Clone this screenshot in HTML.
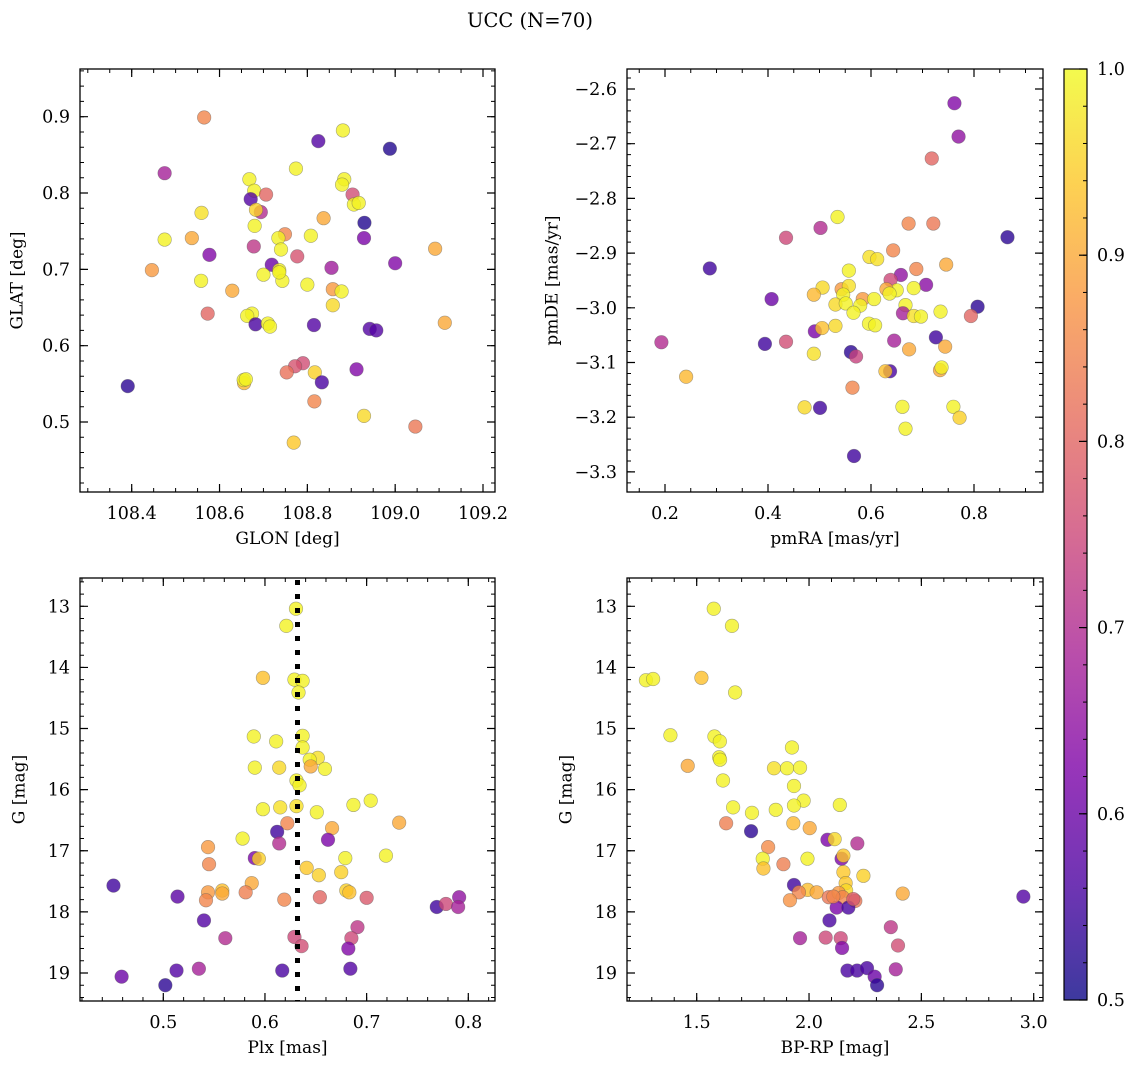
<!DOCTYPE html>
<html><head><meta charset="utf-8"><style>
html,body{margin:0;padding:0;background:#fff}
svg{display:block;font-family:"DejaVu Serif","Liberation Serif",serif}
</style></head><body>
<svg id="fig" width="1136" height="1068" viewBox="0 0 1136 1068">
<defs>
<linearGradient id="cbgrad" x1="0" y1="1" x2="0" y2="0">
<stop offset="0" stop-color="#0d0887"/><stop offset="0.125" stop-color="#4c02a1"/><stop offset="0.25" stop-color="#7e03a8"/><stop offset="0.375" stop-color="#a92395"/><stop offset="0.5" stop-color="#cc4778"/><stop offset="0.625" stop-color="#e66c5c"/><stop offset="0.75" stop-color="#f89540"/><stop offset="0.875" stop-color="#fdc527"/><stop offset="1" stop-color="#f0f921"/>
</linearGradient>
</defs>
<text x="530" y="27" text-anchor="middle" font-size="19.5">UCC (N=70)</text>
</svg>
<script>
// Panel 1 data
const glon=[108.565,108.881,108.825,108.988,108.475,108.774,108.668,108.679,108.706,108.671,108.884,108.879,108.903,108.906,108.917,108.559,108.694,108.683,108.837,108.93,108.68,108.475,108.537,108.749,108.734,108.808,108.929,108.678,108.74,108.577,108.777,109.091,109.0,108.719,108.855,108.446,108.736,108.7,108.743,108.558,108.8,108.629,108.858,108.878,108.858,108.573,108.674,108.663,109.113,108.682,108.71,108.715,108.815,108.942,108.957,108.912,108.79,108.772,108.753,108.817,108.833,108.656,108.655,108.66,108.391,108.816,108.929,109.046,108.769,108.736];
const glat=[0.899,0.882,0.868,0.858,0.826,0.832,0.818,0.803,0.798,0.792,0.818,0.811,0.798,0.785,0.787,0.774,0.775,0.778,0.767,0.761,0.757,0.739,0.741,0.746,0.741,0.744,0.741,0.730,0.726,0.719,0.717,0.727,0.708,0.706,0.702,0.699,0.699,0.693,0.685,0.685,0.680,0.672,0.674,0.671,0.653,0.642,0.642,0.639,0.630,0.628,0.629,0.625,0.627,0.622,0.620,0.569,0.577,0.573,0.565,0.565,0.552,0.551,0.555,0.556,0.547,0.527,0.508,0.494,0.473,0.696];
const prob1=[0.85,0.99,0.57,0.52,0.68,0.99,0.99,0.99,0.8,0.57,0.99,0.99,0.76,0.99,0.99,0.97,0.7,0.95,0.9,0.52,0.99,0.99,0.9,0.85,0.99,0.99,0.62,0.72,0.99,0.63,0.77,0.9,0.63,0.6,0.67,0.88,0.99,0.99,0.99,0.99,0.99,0.9,0.88,0.99,0.96,0.8,0.99,0.99,0.9,0.56,0.99,0.99,0.57,0.57,0.57,0.63,0.76,0.77,0.82,0.95,0.56,0.92,0.99,0.99,0.53,0.85,0.96,0.83,0.94,0.99];
// Panel 2 data
const pmra=[0.762,0.770,0.718,0.535,0.673,0.721,0.502,0.435,0.865,0.287,0.643,0.597,0.612,0.746,0.557,0.658,0.688,0.638,0.707,0.683,0.650,0.506,0.543,0.557,0.489,0.546,0.630,0.636,0.407,0.584,0.606,0.531,0.551,0.579,0.566,0.667,0.807,0.735,0.662,0.683,0.697,0.794,0.491,0.505,0.531,0.596,0.608,0.726,0.645,0.744,0.674,0.193,0.394,0.435,0.489,0.561,0.571,0.637,0.628,0.734,0.737,0.241,0.564,0.471,0.501,0.661,0.760,0.772,0.667,0.567];
const pmde=[-2.626,-2.687,-2.727,-2.834,-2.846,-2.846,-2.854,-2.872,-2.871,-2.928,-2.895,-2.907,-2.911,-2.921,-2.932,-2.940,-2.929,-2.949,-2.958,-2.964,-2.968,-2.963,-2.966,-2.960,-2.976,-2.976,-2.966,-2.974,-2.984,-2.984,-2.984,-2.994,-2.992,-2.996,-3.009,-2.995,-2.998,-3.007,-3.010,-3.015,-3.016,-3.015,-3.043,-3.037,-3.033,-3.029,-3.032,-3.054,-3.060,-3.071,-3.076,-3.063,-3.066,-3.062,-3.084,-3.081,-3.089,-3.116,-3.116,-3.114,-3.109,-3.126,-3.146,-3.182,-3.183,-3.181,-3.181,-3.201,-3.221,-3.271];
const prob2=[0.63,0.65,0.8,0.99,0.85,0.83,0.7,0.75,0.53,0.55,0.85,0.97,0.97,0.9,0.99,0.65,0.85,0.75,0.64,0.99,0.99,0.96,0.88,0.97,0.92,0.99,0.9,0.99,0.6,0.88,0.99,0.96,0.99,0.99,0.99,0.99,0.53,0.99,0.68,0.97,0.99,0.8,0.62,0.93,0.96,0.99,0.99,0.55,0.68,0.9,0.9,0.7,0.55,0.76,0.97,0.53,0.74,0.56,0.93,0.9,0.99,0.92,0.85,0.96,0.55,0.99,0.99,0.95,0.99,0.55];
// Panel 3 data
const plx=[0.6305,0.621,0.598,0.629,0.637,0.633,0.589,0.611,0.637,0.637,0.652,0.644,0.645,0.590,0.614,0.659,0.631,0.634,0.704,0.687,0.598,0.615,0.631,0.651,0.732,0.622,0.666,0.612,0.662,0.614,0.578,0.544,0.719,0.590,0.594,0.679,0.545,0.641,0.653,0.675,0.451,0.587,0.581,0.558,0.558,0.544,0.542,0.514,0.619,0.654,0.680,0.683,0.700,0.769,0.778,0.791,0.790,0.540,0.561,0.629,0.636,0.691,0.685,0.682,0.513,0.459,0.535,0.502,0.617,0.684];
const gmag3=[13.04,13.32,14.17,14.20,14.22,14.41,15.13,15.21,15.12,15.31,15.48,15.51,15.62,15.64,15.64,15.66,15.85,15.93,16.18,16.25,16.32,16.29,16.27,16.37,16.54,16.55,16.63,16.69,16.82,16.88,16.80,16.94,17.08,17.12,17.13,17.12,17.22,17.28,17.40,17.35,17.57,17.53,17.68,17.65,17.70,17.68,17.81,17.75,17.80,17.76,17.65,17.68,17.77,17.92,17.87,17.76,17.92,18.14,18.43,18.41,18.56,18.25,18.43,18.60,18.96,19.06,18.93,19.20,18.96,18.93];
const prob3=[0.99,0.99,0.93,0.99,0.99,0.99,0.99,0.99,0.99,0.99,0.97,0.99,0.9,0.99,0.96,0.99,0.99,0.99,0.99,0.99,0.99,0.97,0.97,0.99,0.9,0.85,0.9,0.55,0.62,0.7,0.99,0.88,0.99,0.62,0.95,0.99,0.85,0.94,0.95,0.95,0.55,0.9,0.84,0.93,0.9,0.88,0.85,0.58,0.85,0.8,0.95,0.93,0.78,0.55,0.75,0.65,0.68,0.57,0.7,0.75,0.76,0.72,0.75,0.63,0.57,0.6,0.68,0.53,0.56,0.57];
const plxRef=[0.632];
// Panel 4 data
const bprp=[1.576,1.657,1.274,1.306,1.521,1.671,1.383,1.579,1.603,1.600,1.604,1.460,1.617,1.924,1.844,1.902,1.960,1.933,1.976,1.933,1.662,1.746,1.852,2.137,1.631,1.930,2.003,1.742,2.082,2.114,2.215,1.818,1.794,1.993,2.145,2.153,1.886,1.797,2.153,2.242,1.933,2.163,2.165,1.994,2.034,1.955,1.915,2.088,2.132,2.150,2.206,2.123,2.175,2.417,2.954,2.091,1.960,2.074,2.141,2.147,2.364,2.396,2.386,2.171,2.214,2.258,2.292,2.303,2.197,2.108];
const gmag4=[13.04,13.32,14.21,14.19,14.17,14.41,15.11,15.13,15.21,15.47,15.51,15.61,15.85,15.31,15.65,15.65,15.64,15.94,16.18,16.26,16.29,16.38,16.33,16.25,16.55,16.55,16.63,16.68,16.82,16.81,16.88,16.94,17.13,17.13,17.13,17.08,17.22,17.29,17.35,17.41,17.56,17.53,17.65,17.64,17.68,17.68,17.81,17.76,17.69,17.76,17.82,17.93,17.93,17.70,17.75,18.14,18.43,18.42,18.43,18.59,18.25,18.55,18.94,18.96,18.96,18.92,19.06,19.20,17.79,17.75];
const prob4=[0.99,0.99,0.99,0.99,0.93,0.99,0.99,0.99,0.99,0.99,0.99,0.9,0.99,0.99,0.97,0.99,0.99,0.99,0.99,0.99,0.99,0.99,0.99,0.99,0.84,0.92,0.9,0.53,0.62,0.96,0.7,0.86,0.99,0.99,0.62,0.94,0.84,0.93,0.94,0.95,0.55,0.94,0.96,0.93,0.9,0.85,0.87,0.83,0.88,0.85,0.83,0.62,0.56,0.9,0.57,0.56,0.68,0.75,0.75,0.63,0.72,0.76,0.68,0.56,0.56,0.56,0.6,0.53,0.78,0.85];
// Tick labels
const ticks1x=[108.4,108.6,108.8,109.0,109.2], ticks1y=[0.5,0.6,0.7,0.8,0.9];
const ticks2x=[0.2,0.4,0.6,0.8], ticks2y=[-3.3,-3.2,-3.1,-3.0,-2.9,-2.8,-2.7,-2.6];
const ticks3x=[0.5,0.6,0.7,0.8], ticksGy=[13,14,15,16,17,18,19];
const ticks4x=[1.5,2.0,2.5,3.0];
const cbTicks=[0.5,0.6,0.7,0.8,0.9,1.0];

const NS='http://www.w3.org/2000/svg';
const svg=document.getElementById('fig');
function mk(tag,attrs,parent){const e=document.createElementNS(NS,tag);for(const k in attrs)e.setAttribute(k,attrs[k]);(parent||svg).appendChild(e);return e;}
const stops=[[0,[13,8,135]],[0.125,[76,2,161]],[0.25,[126,3,168]],[0.375,[169,35,149]],[0.5,[204,71,120]],[0.625,[230,108,92]],[0.75,[248,149,64]],[0.875,[253,197,39]],[1,[240,249,33]]];
function plasma(v){let t=Math.max(0,Math.min(1,(v-0.5)/0.5));for(let i=1;i<stops.length;i++){if(t<=stops[i][0]){const a=stops[i-1],b=stops[i];const f=(t-a[0])/(b[0]-a[0]);const c=a[1].map((x,j)=>Math.round(x+(b[1][j]-x)*f));return 'rgb('+c.join(',')+')';}}return 'rgb(240,249,33)';}
function lin(d0,p0,d1,p1){return v=>p0+(v-d0)*(p1-p0)/(d1-d0);}
const TF=17.5, AF=17;
const panels=[
 {name:'glon-glat',box:[80,69,495,492],sx:lin(108.4,131.7,109.2,483),sy:lin(0.9,116.7,0.5,422),xs:glon,ys:glat,ps:prob1,tx:ticks1x,ty:ticks1y,fx:1,fy:1,minx:0.05,miny:0.02,xl:'GLON [deg]',yl:'GLAT [deg]',ylx:18},
 {name:'pmra-pmde',box:[627,69,1043,492],sx:lin(0.2,665,0.8,974),sy:lin(-2.6,89,-3.3,471.9),xs:pmra,ys:pmde,ps:prob2,tx:ticks2x,ty:ticks2y,fx:1,fy:1,minx:0.05,miny:0.02,xl:'pmRA [mas/yr]',yl:'pmDE [mas/yr]',ylx:553},
 {name:'plx-g',box:[80,578,495,1001],sx:lin(0.5,163.3,0.8,468.3),sy:lin(13,606.3,19,973),xs:plx,ys:gmag3,ps:prob3,tx:ticks3x,ty:ticksGy,fx:1,fy:0,minx:0.02,miny:0.2,xl:'Plx [mas]',yl:'G [mag]',ylx:20},
 {name:'bprp-g',box:[627,578,1043,1001],sx:lin(1.5,696.7,3.0,1033.7),sy:lin(13,606.3,19,973),xs:bprp,ys:gmag4,ps:prob4,tx:ticks4x,ty:ticksGy,fx:1,fy:0,minx:0.1,miny:0.2,xl:'BP-RP [mag]',yl:'G [mag]',ylx:567}
];
panels.forEach(P=>{
 const g=mk('g',{});
 
 
 const [x0,y0,x1,y1]=P.box;
 const invL=(f,p)=>{const a=f(0),b=f(1);return (p-a)/(b-a);};
 const xa=invL(P.sx,x0),xb=invL(P.sx,x1);const xmin=Math.min(xa,xb),xmax=Math.max(xa,xb);
 for(let k=Math.ceil(xmin/P.minx);k*P.minx<=xmax;k++){const v=k*P.minx;const px=P.sx(v);if(px<=x0+0.5||px>=x1-0.5)continue;
  const mt=mk('path',{d:`M${px},${y1}v-4M${px},${y0}v4`,stroke:'#000','stroke-width':1},g);
  }
 const ya=invL(P.sy,y0),yb=invL(P.sy,y1);const ymin=Math.min(ya,yb),ymax=Math.max(ya,yb);
 for(let k=Math.ceil(ymin/P.miny);k*P.miny<=ymax;k++){const v=k*P.miny;const py=P.sy(v);if(py<=y0+0.5||py>=y1-0.5)continue;
  const mt=mk('path',{d:`M${x0},${py}h4M${x1},${py}h-4`,stroke:'#000','stroke-width':1},g);
  }
 P.tx.forEach(v=>{const px=P.sx(v);
  const t=mk('path',{d:`M${px},${y1}v-8M${px},${y0}v8`,stroke:'#000','stroke-width':1.2},g);
  
  const l=mk('text',{x:px,y:y1+27,'text-anchor':'middle','font-size':TF},g);l.textContent=v.toFixed(P.fx);
  });
 P.ty.forEach(v=>{const py=P.sy(v);
  const t=mk('path',{d:`M${x0},${py}h8M${x1},${py}h-8`,stroke:'#000','stroke-width':1.2},g);
  
  const l=mk('text',{x:x0-10,y:py+6,'text-anchor':'end','font-size':TF},g);l.textContent=(v<0?'\u2212'+Math.abs(v).toFixed(P.fy):v.toFixed(P.fy));
  });
 P.xs.forEach((xv,i)=>{
  const c=mk('circle',{cx:P.sx(xv),cy:P.sy(P.ys[i]),r:6.8,fill:plasma(P.ps[i]),'fill-opacity':0.8,stroke:'#555','stroke-opacity':0.5,'stroke-width':0.6},g);
  });
 if(P.name==='plx-g'){const px=P.sx(plxRef[0]);
  const d=mk('line',{x1:px,y1:y0+2,x2:px,y2:y1,stroke:'#000','stroke-width':5,'stroke-dasharray':'5 9'},g);
  }
 const fr=mk('rect',{x:x0,y:y0,width:x1-x0,height:y1-y0,fill:'none',stroke:'#000','stroke-width':1.3},g);
 
 const xl=mk('text',{x:(x0+x1)/2,y:y1+52,'text-anchor':'middle','font-size':AF},g);xl.textContent=P.xl;
 
 const yc=(y0+y1)/2;
 const yl=mk('text',{x:P.ylx,y:yc,'text-anchor':'middle','font-size':AF,transform:`rotate(-90 ${P.ylx} ${yc})`,'dominant-baseline':'middle'},g);yl.textContent=P.yl;
 
});
const cb=mk('g',{});


const cbx=1064,cbw=23,cbt=69,cbb=1000;
mk('rect',{x:cbx,y:cbt,width:cbw,height:cbb-cbt,fill:'url(#cbgrad)','fill-opacity':0.8},cb);
mk('rect',{x:cbx,y:cbt,width:cbw,height:cbb-cbt,fill:'none',stroke:'#000','stroke-width':1.2},cb);
const cy=lin(0.5,cbb,1.0,cbt);
for(let k=25;k<=50;k++){const py=cy(k*0.02);mk('path',{d:`M${cbx+cbw},${py}h-4`,stroke:'#000','stroke-width':1},cb);}
cbTicks.forEach(v=>{const py=cy(v);mk('path',{d:`M${cbx+cbw},${py}h-8`,stroke:'#000','stroke-width':1.2},cb);
 const l=mk('text',{x:cbx+cbw+10,y:py+6,'font-size':TF},cb);l.textContent=v.toFixed(1);
 });
</script>
</body></html>
